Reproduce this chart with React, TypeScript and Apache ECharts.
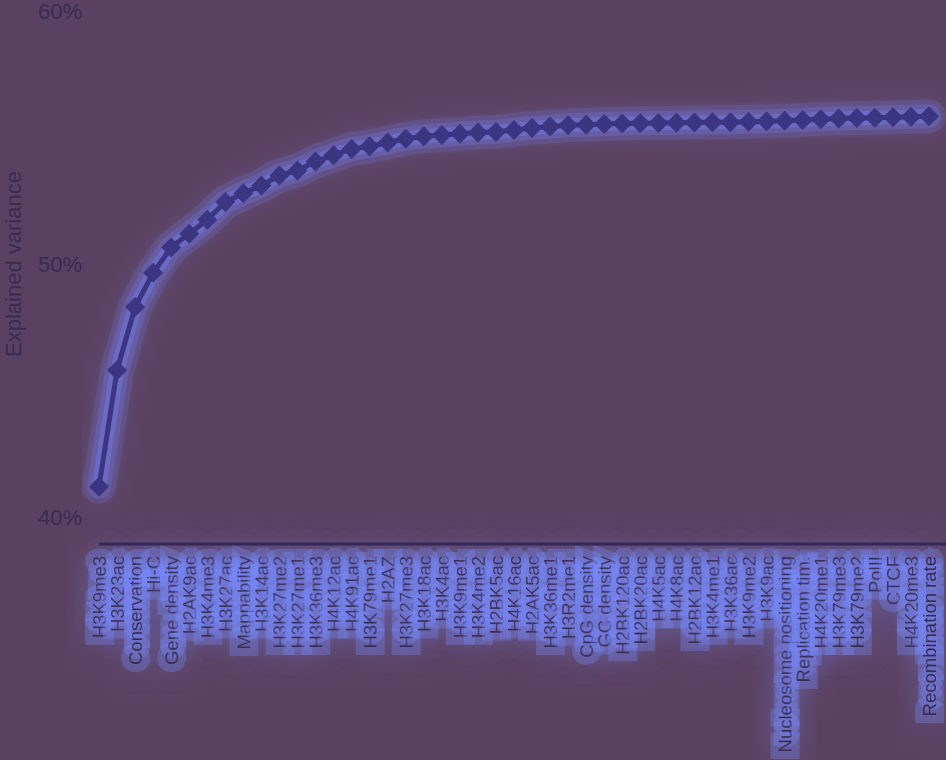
import { useEffect, useRef } from "react";
import * as echarts from "echarts";

const features = [
  "H3K9me3", "H3K23ac", "Conservation", "Hi-C", "Gene density", "H2AK9ac",
  "H3K4me3", "H3K27ac", "Mappability", "H3K14ac", "H3K27me2", "H3K27me1",
  "H3K36me3", "H4K12ac", "H4K91ac", "H3K79me1", "H2AZ", "H3K27me3",
  "H3K18ac", "H3K4ac", "H3K9me1", "H3K4me2", "H2BK5ac", "H4K16ac",
  "H2AK5ac", "H3K36me1", "H3R2me1", "CpG density", "GC density", "H2BK120ac",
  "H2BK20ac", "H4K5ac", "H4K8ac", "H2BK12ac", "H3K4me1", "H3K36ac",
  "H3K9me2", "H3K9ac", "Nucleosome positioning", "Replication tim.", "H4K20me1",
  "H3K79me3", "H3K79me2", "PolII", "CTCF", "H4K20me3", "Recombination rate",
];

// cumulative explained variance, in percent
const explained = [
  41.2, 45.8, 48.3, 49.65, 50.65, 51.2, 51.75, 52.45, 52.8, 53.1,
  53.5, 53.7, 54.05, 54.3, 54.55, 54.65, 54.8, 54.95, 55.05, 55.1,
  55.15, 55.2, 55.22, 55.3, 55.38, 55.43, 55.48, 55.5, 55.53, 55.55,
  55.56, 55.57, 55.58, 55.59, 55.6, 55.6, 55.62, 55.64, 55.66, 55.69,
  55.72, 55.75, 55.77, 55.78, 55.8, 55.82, 55.84,
];

const yTicks = { min: 40, max: 60, step: 10 };

// halo layers drawn under the curve: [width, opacity, blur]
const haloLayers = [
  [34, 0.16, 18],
  [24, 0.22, 0],
  [14, 0.34, 0],
];

const FONT = "'Liberation Sans', Arial, sans-serif";
const GLOW = "rgba(120, 138, 255, 1)";
const LINE = "#3b3582";
const TEXT = "#392b52";

export default function App() {
  const chartRef = useRef<HTMLDivElement>(null);

  useEffect(() => {
    if (!chartRef.current) return;
    document.body.style.margin = "0";

    const chart = echarts.init(chartRef.current, null, { renderer: "svg" });

    const halos: echarts.SeriesOption[] = haloLayers.map(([w, a, b]) => ({
      type: "line",
      data: explained,
      symbol: "none",
      silent: true,
      lineStyle: {
        color: `rgba(118, 132, 255, ${a})`,
        width: w,
        cap: "round",
        join: "round",
        shadowBlur: b,
        shadowColor: b ? GLOW : "transparent",
      },
      z: 1,
    }));

    const option: echarts.EChartsOption = {
      animation: false,
      backgroundColor: "#5b4161",
      textStyle: { fontFamily: FONT },
      grid: {
        left: 99,
        right: 17,
        top: 11,
        bottom: 243,
        containLabel: false,
        outerBoundsMode: "none",
      } as any,
      xAxis: {
        type: "category",
        data: features,
        boundaryGap: false,
        offset: 27,
        axisLine: { show: false },
        axisTick: { show: false },
        axisLabel: {
          interval: 0,
          rotate: 90,
          margin: 12,
          fontSize: 18.5,
          fontFamily: FONT,
          color: TEXT,
          textBorderColor: "rgba(120, 138, 255, 0.3)",
          textBorderWidth: 16,
          textShadowColor: "rgba(120, 138, 255, 0.55)",
          textShadowBlur: 30,
        },
      },
      yAxis: {
        type: "value",
        min: yTicks.min,
        max: yTicks.max,
        interval: yTicks.step,
        name: "Explained variance",
        nameLocation: "middle",
        nameRotate: 90,
        nameGap: 75,
        nameTextStyle: { fontSize: 22, color: TEXT, fontFamily: FONT },
        axisLine: { show: false },
        axisTick: { show: false },
        splitLine: { show: false },
        axisLabel: {
          formatter: "{value}%",
          fontSize: 22,
          margin: 17,
          color: TEXT,
          fontFamily: FONT,
        },
      },
      graphic: [
        {
          type: "rect",
          shape: { x: 99, y: 542.5, width: 847, height: 3 },
          style: { fill: "#34285a" },
          z: 10,
        },
      ],
      series: [
        ...halos,
        {
          type: "line",
          data: explained,
          symbol: "diamond",
          symbolSize: 20,
          lineStyle: {
            color: LINE,
            width: 5,
          },
          itemStyle: {
            color: LINE,
          },
          z: 2,
        },
      ],
    };

    chart.setOption(option);

    return () => {
      chart.dispose();
    };
  }, []);

  return <div ref={chartRef} style={{ width: 946, height: 760 }} />;
}
